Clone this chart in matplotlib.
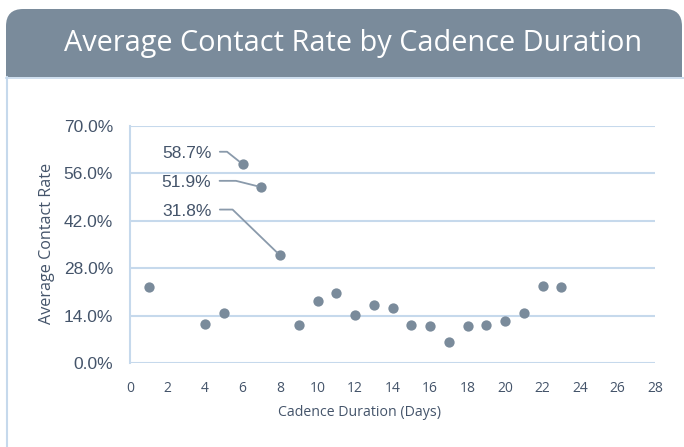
import matplotlib
matplotlib.use("Agg")
import matplotlib.pyplot as plt
from matplotlib.patches import FancyBboxPatch, Rectangle
from matplotlib.lines import Line2D
from matplotlib.ticker import PercentFormatter

# ---- data ----
duration_days = [1, 4, 5, 6, 7, 8, 9, 10, 11, 12, 13, 14, 15, 16, 17, 18, 19, 20, 21, 22, 23]
contact_rate = [22.4, 11.5, 14.7, 58.7, 51.9, 31.8, 11.2, 18.5, 20.8, 14.3, 17.2, 16.3,
                11.2, 11.0, 6.3, 11.0, 11.2, 12.6, 14.7, 22.8, 22.4]
labelled_days = [6, 7, 8]
labelled_text = ["58.7%", "51.9%", "31.8%"]
y_ticks = [0, 14, 28, 42, 56, 70]
x_ticks = list(range(0, 29, 2))
title = "Average Contact Rate by Cadence Duration"
x_title = "Cadence Duration (Days)"
y_title = "Average Contact Rate"

W, H = 684, 447
header_col = "#7a8b9b"
grid_col = "#c6d9ec"
text_col = "#44546a"
dot_col = "#7a8b9b"

fig = plt.figure(figsize=(W / 100, H / 100), dpi=100)
fig.patch.set_facecolor("white")

def fx(px):
    return px / W

def fy(py):
    return 1 - py / H

# header band with rounded top corners
hdr = FancyBboxPatch((fx(6), fy(110)), fx(676), fy(9) - fy(110),
                     boxstyle="round,pad=0,rounding_size=0.025",
                     transform=fig.transFigure, facecolor=header_col,
                     edgecolor="none", zorder=0, mutation_aspect=W / H)
fig.patches.append(hdr)
cover = Rectangle((fx(6), 0), 1 - fx(6), fy(77), transform=fig.transFigure,
                  facecolor="white", edgecolor="none", zorder=0.5)
fig.patches.append(cover)
fig.lines.append(Line2D([fx(6), 1], [fy(77.5), fy(77.5)], transform=fig.transFigure,
                        color=grid_col, lw=1.2, zorder=1))
fig.lines.append(Line2D([fx(6.5), fx(6.5)], [fy(77), 0], transform=fig.transFigure,
                        color=grid_col, lw=1.5, zorder=1))
fig.text(fx(353), fy(43), title, color="white", fontsize=20.8,
         family="Open Sans", ha="center", va="center")

# axes
left, right = 130, 655
top, bottom = 125.7, 363.3
ax = fig.add_axes([fx(left), fy(bottom), fx(right - left), fy(top) - fy(bottom)])
ax.set_zorder(2)
ax.set_facecolor("none")
ax.set_xlim(0, 28)
ax.set_ylim(0, 70)
ax.set_yticks(y_ticks)
ax.set_xticks(x_ticks)
ax.yaxis.set_major_formatter(PercentFormatter(decimals=1))
for s in ["top", "right", "bottom"]:
    ax.spines[s].set_visible(False)
ax.spines["left"].set_color(grid_col)
ax.spines["left"].set_linewidth(1.5)
ax.grid(axis="y", color=grid_col, lw=1.5)
ax.set_axisbelow(True)
ax.tick_params(axis="both", length=0)
ax.tick_params(axis="y", pad=12.2, labelsize=12.5, labelcolor=text_col)
ax.tick_params(axis="x", pad=13, labelsize=10, labelcolor=text_col)
for t in ax.get_yticklabels():
    t.set_family("Liberation Sans")
for t in ax.get_xticklabels():
    t.set_family("Open Sans")

ax.scatter(duration_days, contact_rate, s=55, color=dot_col, zorder=3, linewidths=0)

fig.text(fx(47), fy(243.5), y_title, rotation=90, ha="center", va="center",
         fontsize=11.6, family="Open Sans", color=text_col, zorder=3)
fig.text(fx(359), fy(413), x_title, ha="center", va="center",
         fontsize=10.2, family="Open Sans", color=text_col, zorder=3)

# annotations: text offset (px) and leader angle at the point
offsets = [(-31, 10.5, 141.5), (-50, 4.5, 166), (-68.5, 44, 136)]
for d, txt, (dx, dy, angB) in zip(labelled_days, labelled_text, offsets):
    v = contact_rate[duration_days.index(d)]
    ax.annotate(txt, xy=(d, v), xytext=(dx * 0.72, dy * 0.72),
                textcoords="offset points", ha="right", va="center",
                fontsize=12.5, family="Liberation Sans", color=text_col,
                arrowprops=dict(arrowstyle="-", color="#8a9aab", lw=1.3,
                                shrinkA=4, shrinkB=3, relpos=(1, 0.62),
                                connectionstyle=f"angle,angleA=0,angleB={angB},rad=0"))

fig.savefig("out.png", dpi=100)
